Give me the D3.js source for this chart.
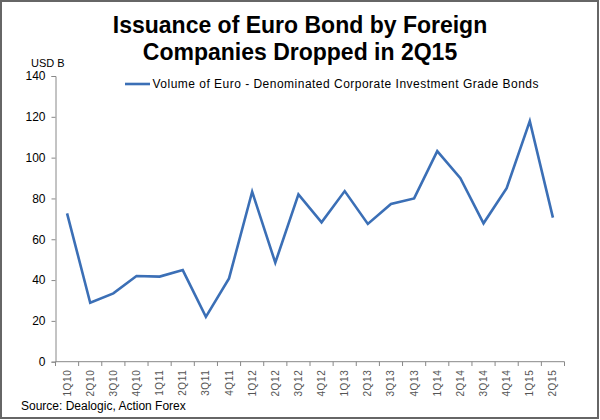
<!DOCTYPE html>
<html><head><meta charset="utf-8">
<script src="https://cdn.jsdelivr.net/npm/d3@7"></script>
<style>body{margin:0;background:#fff}svg{display:block}text{font-family:"Liberation Sans",Arial,sans-serif}</style>
</head><body><svg id="c" width="600" height="420"></svg>
<script>
const categories = ["1Q10","2Q10","3Q10","4Q10","1Q11","2Q11","3Q11","4Q11","1Q12","2Q12","3Q12","4Q12","1Q13","2Q13","3Q13","4Q13","1Q14","2Q14","3Q14","4Q14","1Q15","2Q15"];
const volumes = [72.7,28.9,33.5,42,41.7,44.9,22,40.8,83.3,48.5,82,68.3,83.6,67.5,77.3,80,103.2,89.9,67.8,85,117.9,70.6];
const yTicks = [0,20,40,60,80,100,120,140];
const seriesName = "Volume of Euro - Denominated Corporate Investment Grade Bonds";
const titleLines = ["Issuance of Euro Bond by Foreign","Companies Dropped in 2Q15"];

const svg = d3.select("#c");
svg.append("rect").attr("x",1).attr("y",1).attr("width",597).attr("height",417)
  .attr("fill","#fff").attr("stroke","#666").attr("stroke-width",2);

const x = d3.scaleBand().domain(categories).range([55.5,564.5]);
const y = d3.scaleLinear().domain([0,140]).range([361.7,76]);

svg.selectAll("text.title").data(titleLines).join("text").attr("class","title")
  .attr("x",300).attr("y",(d,i)=>33.3+i*27).attr("text-anchor","middle")
  .attr("font-size",23).attr("font-weight","bold").attr("fill","#000").text(d=>d);

// y axis
const ya = svg.append("g").attr("transform","translate(55.5,0)")
  .call(d3.axisLeft(y).tickValues(yTicks).tickSize(4).tickPadding(6));
ya.select(".domain").attr("stroke","#888");
ya.selectAll(".tick line").attr("stroke","#888");
ya.selectAll(".tick text").attr("font-size",12).attr("fill","#000").attr("font-family","Liberation Sans, Arial, sans-serif");

// x axis
const xa = svg.append("g").attr("transform","translate(0,361.7)")
  .call(d3.axisBottom(x).tickSize(0).tickPadding(0));
xa.select(".domain").attr("stroke","#888").attr("d","M55.5,0H564.5");
xa.selectAll(".tick text").attr("font-size",10).attr("fill","#555")
  .attr("font-family","Liberation Sans, Arial, sans-serif")
  .attr("text-anchor","end").attr("dy",null).attr("letter-spacing",0.6)
  .attr("transform","translate(3.5,8) rotate(-90)");
const bounds = categories.map(c=>x(c)).concat([x.range()[1]]);
svg.append("g").selectAll("line").data(bounds).join("line")
  .attr("x1",d=>d).attr("x2",d=>d).attr("y1",361.7).attr("y2",366)
  .attr("stroke","#888");

svg.append("text").attr("x",31).attr("y",67).attr("font-size",11).attr("fill","#000").text("USD B");

// line
const line = d3.line().x((d,i)=>x(categories[i])+x.bandwidth()/2).y(d=>y(d));
svg.append("path").datum(volumes).attr("d",line).attr("fill","none")
  .attr("stroke","#3B6FB6").attr("stroke-width",2.6).attr("stroke-linejoin","miter");

// legend
svg.append("line").attr("x1",125).attr("x2",150).attr("y1",84).attr("y2",84)
  .attr("stroke","#3B6FB6").attr("stroke-width",2.6);
svg.append("text").attr("x",152.5).attr("y",87.5).attr("font-size",12).attr("fill","#000")
  .attr("textLength",386).attr("lengthAdjust","spacing").text(seriesName);

svg.append("text").attr("x",21).attr("y",410).attr("font-size",12).attr("fill","#000").text("Source: Dealogic, Action Forex");
</script></body></html>
